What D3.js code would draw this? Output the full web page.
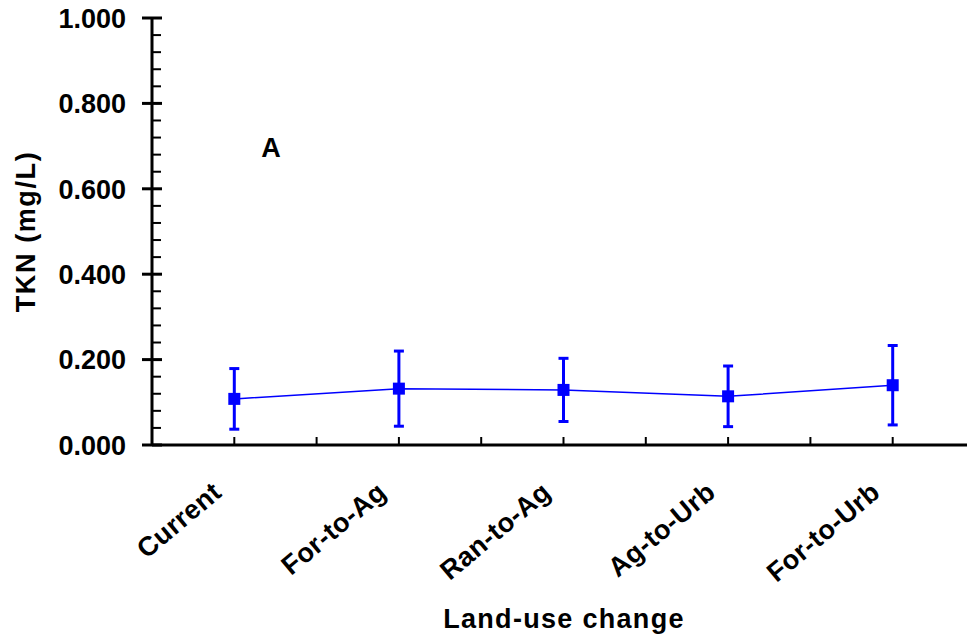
<!DOCTYPE html>
<html>
<head>
<meta charset="utf-8">
<script src="https://cdn.jsdelivr.net/npm/d3@7"></script>
<style>
  body { margin: 0; background: #fff; }
  text { font-family: "Liberation Sans", Arial, sans-serif; font-weight: bold; }
</style>
</head>
<body>
<svg id="chart" width="967" height="639"></svg>
<script>
const categories = ["Current", "For-to-Ag", "Ran-to-Ag", "Ag-to-Urb", "For-to-Urb"];
const means = [0.108, 0.132, 0.129, 0.114, 0.140];
const errors = [0.071, 0.088, 0.074, 0.071, 0.093];
const yTicks = [0, 0.2, 0.4, 0.6, 0.8, 1.0];

const svg = d3.select("#chart");
const plot = { left: 152, top: 18, bottom: 445, right: 975 };
const blue = "#0000ff";
const fs = 27;

const x = d3.scaleLinear().domain([-0.5, categories.length - 0.5]).range([plot.left, plot.right]);
const y = d3.scaleLinear().domain([0, 1]).range([plot.bottom, plot.top]);

// y axis
svg.append("line")
  .attr("x1", plot.left).attr("x2", plot.left)
  .attr("y1", y(0)).attr("y2", y(1))
  .attr("stroke", "#000").attr("stroke-width", 3);

const minorY = d3.range(0, 1.0001, 0.04).filter(v => Math.abs(v * 5 - Math.round(v * 5)) > 1e-6);
svg.selectAll(".ymin").data(minorY).enter().append("line")
  .attr("x1", plot.left).attr("x2", plot.left + 9)
  .attr("y1", d => y(d)).attr("y2", d => y(d))
  .attr("stroke", "#000").attr("stroke-width", 2);

svg.selectAll(".ymaj").data(yTicks).enter().append("line")
  .attr("x1", plot.left - 10).attr("x2", plot.left + 10)
  .attr("y1", d => y(d)).attr("y2", d => y(d))
  .attr("stroke", "#000").attr("stroke-width", 3);

svg.selectAll(".ylab").data(yTicks).enter().append("text")
  .attr("x", plot.left - 26).attr("y", d => y(d))
  .attr("dy", "0.36em")
  .attr("text-anchor", "end")
  .attr("font-size", fs)
  .text(d => d3.format(".3f")(d));

// x axis
svg.append("line")
  .attr("x1", plot.left).attr("x2", 967)
  .attr("y1", plot.bottom).attr("y2", plot.bottom)
  .attr("stroke", "#000").attr("stroke-width", 3);

const xTickPos = d3.range(0, categories.length - 0.4, 0.5);
svg.selectAll(".xt").data(xTickPos).enter().append("line")
  .attr("x1", d => x(d)).attr("x2", d => x(d))
  .attr("y1", plot.bottom).attr("y2", plot.bottom - 8)
  .attr("stroke", "#000").attr("stroke-width", 2);

svg.selectAll(".xlab").data(categories).enter().append("text")
  .attr("transform", (d, i) => `translate(${x(i) - 11},${plot.bottom + 50}) rotate(-40)`)
  .attr("text-anchor", "end")
  .attr("font-size", fs)
  .attr("letter-spacing", 0.4)
  .text(d => d);

// titles
svg.append("text")
  .attr("transform", `translate(35,${(plot.top + plot.bottom) / 2}) rotate(-90)`)
  .attr("text-anchor", "middle")
  .attr("font-size", fs)
  .attr("letter-spacing", 1.6)
  .text("TKN (mg/L)");

svg.append("text")
  .attr("x", 564).attr("y", 628)
  .attr("text-anchor", "middle")
  .attr("font-size", fs)
  .attr("letter-spacing", 1.3)
  .text("Land-use change");

svg.append("text")
  .attr("x", 271).attr("y", 157)
  .attr("text-anchor", "middle")
  .attr("font-size", fs)
  .text("A");

// series
const pts = categories.map((c, i) => ({ i, m: means[i], e: errors[i] }));

svg.append("path")
  .datum(pts)
  .attr("fill", "none")
  .attr("stroke", blue)
  .attr("stroke-width", 1.5)
  .attr("d", d3.line().x(d => x(d.i)).y(d => y(d.m)));

const eb = svg.selectAll(".eb").data(pts).enter().append("g");
eb.append("line")
  .attr("x1", d => x(d.i)).attr("x2", d => x(d.i))
  .attr("y1", d => y(d.m - d.e)).attr("y2", d => y(d.m + d.e))
  .attr("stroke", blue).attr("stroke-width", 3);
eb.selectAll(".cap").data(d => [d.m - d.e, d.m + d.e].map(v => ({ i: d.i, v })))
  .enter().append("line")
  .attr("x1", d => x(d.i) - 5).attr("x2", d => x(d.i) + 5)
  .attr("y1", d => y(d.v)).attr("y2", d => y(d.v))
  .attr("stroke", blue).attr("stroke-width", 3);

svg.selectAll(".mk").data(pts).enter().append("rect")
  .attr("x", d => x(d.i) - 6).attr("y", d => y(d.m) - 6)
  .attr("width", 12).attr("height", 12)
  .attr("fill", blue);
</script>
</body>
</html>
